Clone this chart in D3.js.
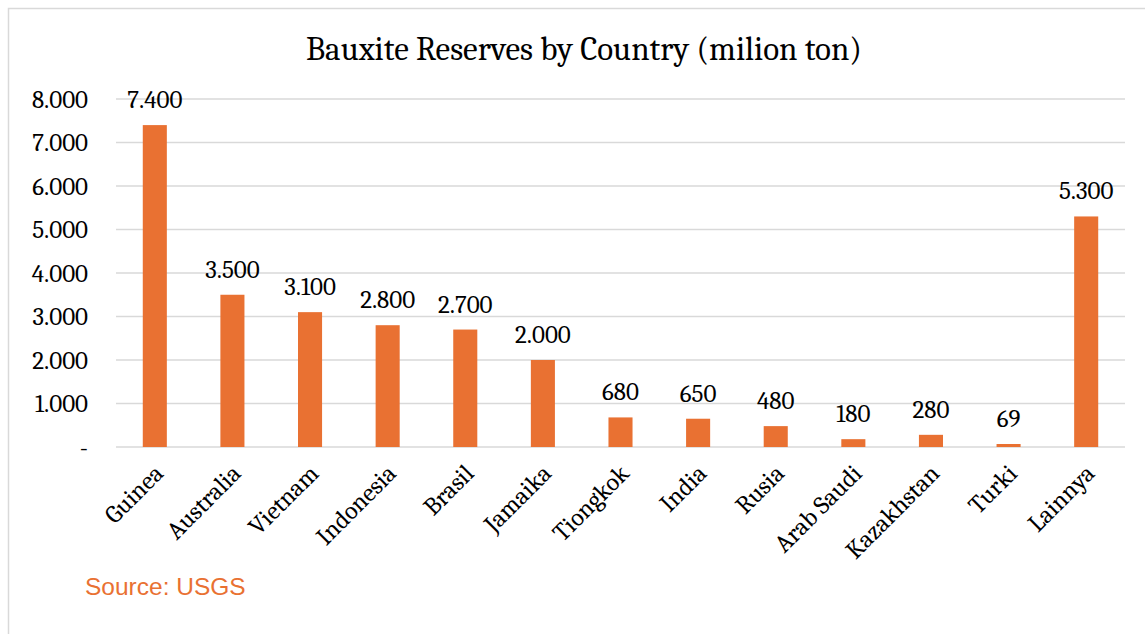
<!DOCTYPE html>
<html>
<head>
<meta charset="utf-8">
<script src="https://cdn.jsdelivr.net/npm/d3@7"></script>
<style>
  body { margin: 0; background: #fff; }
  svg { display: block; }
</style>
</head>
<body>
<div class="chart"></div>
<script>
// chart data
const countries = ["Guinea", "Australia", "Vietnam", "Indonesia", "Brasil", "Jamaika", "Tiongkok", "India", "Rusia", "Arab Saudi", "Kazakhstan", "Turki", "Lainnya"];
const reserves = [7400, 3500, 3100, 2800, 2700, 2000, 680, 650, 480, 180, 280, 69, 5300];
const yTicks = [0, 1000, 2000, 3000, 4000, 5000, 6000, 7000, 8000];

const w = 1145, h = 634;
const margin = { top: 99, right: 20, bottom: 187, left: 116 };
const orange = "#E97132";
const serif = "Cambria, 'DejaVu Serif', serif";

// thousands with a dot, zero as a dash
const fmt = v => v === 0 ? "-" : d3.format(",")(v).replace(/,/g, ".");

const svg = d3.select("div.chart")
    .append("svg")
    .attr("width", w)
    .attr("height", h);

// outer frame
svg.append("rect")
    .attr("x", 8.5).attr("y", 8.5)
    .attr("width", w + 10).attr("height", h + 10)
    .attr("fill", "none")
    .attr("stroke", "#d9d9d9")
    .attr("stroke-width", 1.5);

const xScale = d3.scaleBand()
    .domain(countries)
    .range([margin.left, w - margin.right])
    .paddingInner(0.69)
    .paddingOuter(0.345);

const yScale = d3.scaleLinear()
    .domain([0, 8000])
    .range([h - margin.bottom, margin.top]);

// title
svg.append("text")
    .attr("x", 584)
    .attr("y", 60)
    .attr("text-anchor", "middle")
    .style("font-family", serif)
    .style("font-size", "33px")
    .attr("fill", "#000")
    .text("Bauxite Reserves by Country (milion ton)");

// grid lines
svg.append("g")
    .selectAll("line")
    .data(yTicks)
    .enter()
    .append("line")
    .attr("x1", margin.left)
    .attr("x2", w - margin.right)
    .attr("y1", d => yScale(d))
    .attr("y2", d => yScale(d))
    .attr("stroke", "#d9d9d9")
    .attr("stroke-width", 1.5);

// y axis labels
const yAxis = d3.axisLeft(yScale)
    .tickValues(yTicks)
    .tickFormat(fmt)
    .tickSize(0)
    .tickPadding(28);
const gy = svg.append("g")
    .attr("transform", "translate(" + margin.left + ",0)")
    .call(yAxis);
gy.select(".domain").remove();
gy.selectAll("text")
    .style("font-family", serif)
    .style("font-size", "25px")
    .attr("fill", "#000");

// x axis labels
const xAxis = d3.axisBottom(xScale).tickSize(0).tickPadding(0);
const gx = svg.append("g")
    .attr("transform", "translate(0," + (h - margin.bottom) + ")")
    .call(xAxis);
gx.select(".domain").remove();
gx.selectAll("text")
    .style("font-family", serif)
    .style("font-size", "25px")
    .attr("fill", "#000")
    .attr("text-anchor", "end")
    .attr("dy", null)
    .attr("y", 0)
    .attr("transform", "translate(10,28) rotate(-45)");

// bars
svg.selectAll("rect.bar")
    .data(reserves)
    .enter()
    .append("rect")
    .attr("class", "bar")
    .attr("x", (d, i) => xScale(countries[i]))
    .attr("y", d => yScale(d))
    .attr("width", xScale.bandwidth())
    .attr("height", d => yScale(0) - yScale(d))
    .attr("fill", orange);

// value labels
svg.selectAll("text.value")
    .data(reserves)
    .enter()
    .append("text")
    .attr("class", "value")
    .attr("x", (d, i) => xScale(countries[i]) + xScale.bandwidth() / 2)
    .attr("y", d => yScale(d) - 17)
    .attr("text-anchor", "middle")
    .style("font-family", serif)
    .style("font-size", "25px")
    .attr("fill", "#000")
    .text(d => fmt(d));

// source note
svg.append("text")
    .attr("x", 85)
    .attr("y", 595)
    .style("font-family", "'Liberation Sans', Arial, sans-serif")
    .style("font-size", "24.5px")
    .attr("fill", orange)
    .text("Source: USGS");
</script>
</body>
</html>
